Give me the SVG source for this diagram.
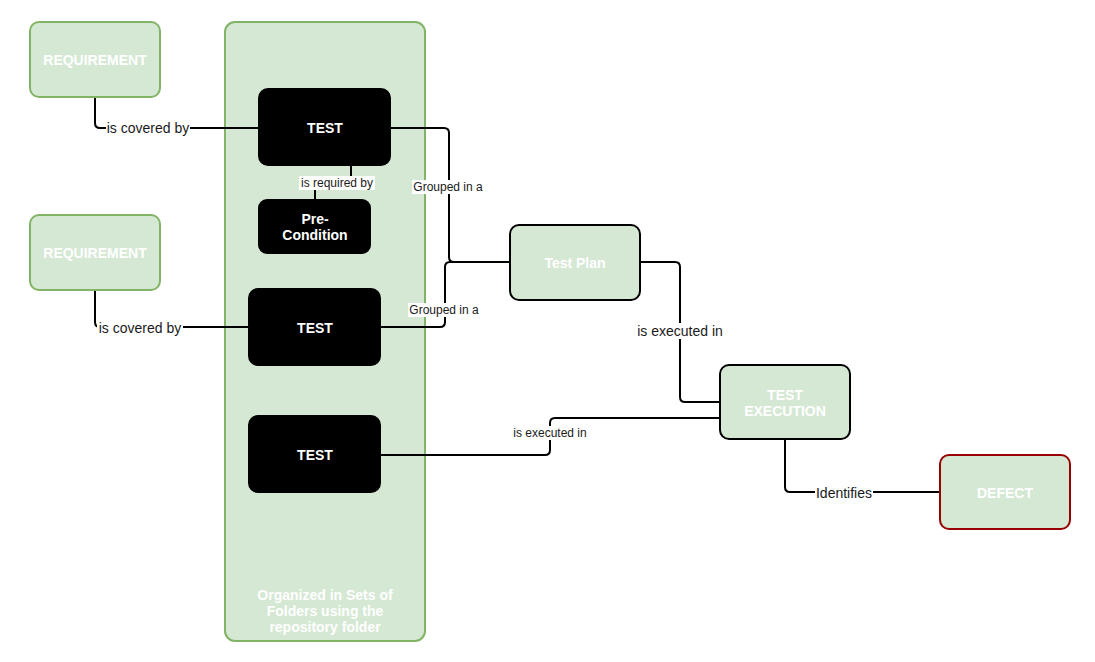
<svg xmlns="http://www.w3.org/2000/svg" width="1095" height="662" viewBox="0 0 1095 662">
<style>
.green{fill:#d5e8d4;stroke:#82b366;stroke-width:2}
.blk{fill:#000;stroke:#000;stroke-width:2}
.gb{fill:#d5e8d4;stroke:#000;stroke-width:2}
.red{fill:#d5e8d4;stroke:#990000;stroke-width:2}
.nt{font-family:"Liberation Sans",Arial,sans-serif;font-size:14px;font-weight:bold;fill:#fff;text-anchor:middle}
.lt{font-family:"Liberation Sans",Arial,sans-serif;fill:#1a1a1a;text-anchor:middle}
.edge{fill:none;stroke:#000;stroke-width:2}
.lbg{fill:#fff}
</style>
<rect width="1095" height="662" fill="#fff"/>
<g id="container">
<rect class="green" x="225" y="22" width="200" height="619" rx="10"/>
<text class="nt" x="325" y="600">Organized in Sets of</text>
<text class="nt" x="325" y="616">Folders using the</text>
<text class="nt" x="325" y="632">repository folder</text>
</g>
<g id="connectors">
<path class="edge" d="M95,97 L95,123 Q95,128 100,128 L259,128"/>
<path class="edge" d="M351,165 L351,183 L315,183 L315,200"/>
<path class="edge" d="M390,128 L444,128 Q449,128 449,133 L449,257 Q449,262 454,262 L510,262"/>
<path class="edge" d="M380,327 L440,327 Q445,327 445,322 L445,267 Q445,262 450,262 L510,262"/>
<path class="edge" d="M95,290 L95,322 Q95,327 100,327 L249,327"/>
<path class="edge" d="M640,262 L675,262 Q680,262 680,267 L680,397 Q680,402 685,402 L720,402"/>
<path class="edge" d="M380,455 L545,455 Q550,455 550,450 L550,423 Q550,418 555,418 L720,418"/>
<path class="edge" d="M785,439 L785,487 Q785,492 790,492 L940,492"/>
<rect class="lbg" x="106" y="120" width="84" height="16"/>
<text class="lt" x="148" y="133" font-size="14">is covered by</text>
<rect class="lbg" x="299" y="176" width="76" height="14"/>
<text class="lt" x="337" y="187" font-size="12">is required by</text>
<rect class="lbg" x="412" y="180" width="72" height="14"/>
<text class="lt" x="448" y="191" font-size="12">Grouped in a</text>
<rect class="lbg" x="408" y="303" width="72" height="14"/>
<text class="lt" x="444" y="314" font-size="12">Grouped in a</text>
<rect class="lbg" x="97" y="320" width="86" height="16"/>
<text class="lt" x="140" y="333" font-size="14">is covered by</text>
<rect class="lbg" x="636" y="323" width="88" height="16"/>
<text class="lt" x="680" y="336" font-size="14">is executed in</text>
<rect class="lbg" x="512" y="426" width="76" height="14"/>
<text class="lt" x="550" y="437" font-size="12">is executed in</text>
<rect class="lbg" x="815" y="485" width="58" height="16"/>
<text class="lt" x="844" y="498" font-size="14">Identifies</text>
</g>
<g id="req1">
<rect class="green" x="30" y="22" width="130" height="75" rx="9"/>
<text class="nt" x="95" y="65">REQUIREMENT</text>
</g>
<g id="req2">
<rect class="green" x="30" y="215" width="130" height="75" rx="9"/>
<text class="nt" x="95" y="258">REQUIREMENT</text>
</g>
<g id="test1">
<rect class="blk" x="259" y="89" width="131" height="76" rx="9"/>
<text class="nt" x="325" y="133">TEST</text>
</g>
<g id="precondition">
<rect class="blk" x="259" y="200" width="111" height="53" rx="8"/>
<text class="nt" x="315" y="224">Pre-</text>
<text class="nt" x="315" y="240">Condition</text>
</g>
<g id="test2">
<rect class="blk" x="249" y="289" width="131" height="76" rx="9"/>
<text class="nt" x="315" y="333">TEST</text>
</g>
<g id="test3">
<rect class="blk" x="249" y="416" width="131" height="76" rx="9"/>
<text class="nt" x="315" y="460">TEST</text>
</g>
<g id="testplan">
<rect class="gb" x="510" y="225" width="130" height="75" rx="9"/>
<text class="nt" x="575" y="268">Test Plan</text>
</g>
<g id="testexecution">
<rect class="gb" x="720" y="365" width="130" height="74" rx="9"/>
<text class="nt" x="785" y="400">TEST</text>
<text class="nt" x="785" y="416">EXECUTION</text>
</g>
<g id="defect">
<rect class="red" x="940" y="455" width="130" height="74" rx="9"/>
<text class="nt" x="1005" y="498">DEFECT</text>
</g>
</svg>
